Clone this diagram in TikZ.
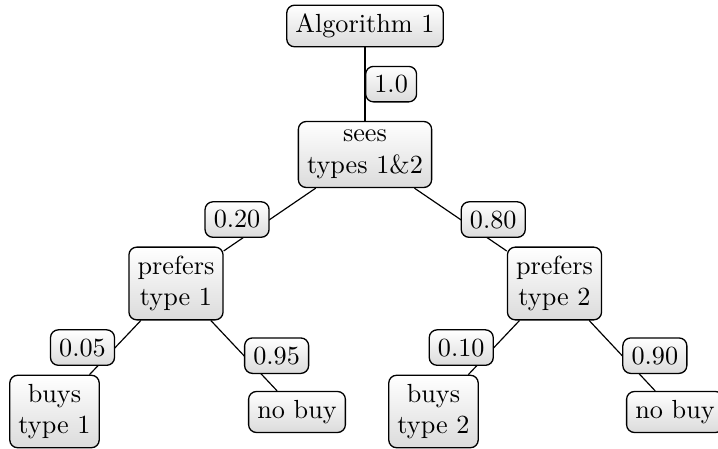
\documentclass[tikz,border=0pt]{standalone}
\begin{document}
\tikzset{
  box/.style={draw, rounded corners=3pt, top color=white, bottom color=black!14,
    align=center, inner sep=3.33pt, line width=0.5pt},
  prob/.style={box, midway},
  link/.style={line width=0.45pt}
}
\begin{tikzpicture}[x=0.3817pt, y=-0.3817pt]
\useasboundingbox (0,0) rectangle (718,449);
\node[box] (A)  at (365,26)    {Algorithm 1};
\node[box] (S)  at (365,154.5) {sees\\types 1\&2};
\node[box] (P1) at (176,283.5) {prefers\\type 1};
\node[box] (P2) at (554.5,283.5) {prefers\\type 2};
\node[box] (B1) at (54.5,411.5) {buys\\type 1};
\node[box] (N1) at (297,412)   {no buy};
\node[box] (B2) at (433.5,411.5) {buys\\type 2};
\node[box] (N2) at (675,412)   {no buy};
\draw[link] (A)  -- node[prob, anchor=west] (lA)  {1.0}  (S);
\draw[link] (S)  -- node[prob, anchor=east] (lS1) {0.20} (P1);
\draw[link] (S)  -- node[prob, anchor=west] (lS2) {0.80} (P2);
\draw[link] (P1) -- node[prob, anchor=east] (lB1) {0.05} (B1);
\draw[link] (P1) -- node[prob, anchor=west] (lN1) {0.95} (N1);
\draw[link] (P2) -- node[prob, anchor=east] (lB2) {0.10} (B2);
\draw[link] (P2) -- node[prob, anchor=west] (lN2) {0.90} (N2);
\end{tikzpicture}
\end{document}
